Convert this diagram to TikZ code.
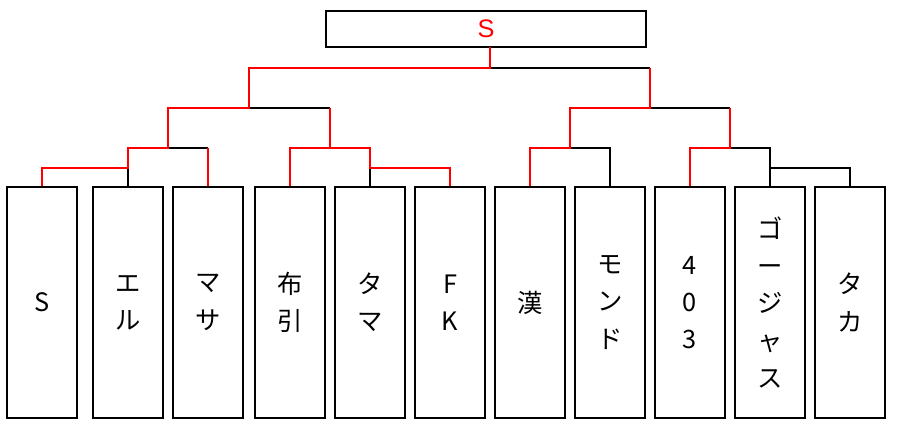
\documentclass[tikz,border=0pt]{standalone}
\usepackage{fontspec}
\setmainfont{Liberation Sans}
\newfontfamily\jpfont{Noto Sans CJK JP}
\begin{document}
\begin{tikzpicture}[x=0.75pt,y=-0.75pt,line width=2pt,
  entry/.style={draw,line width=1.5pt,minimum width=53pt,minimum height=173pt,inner sep=0pt,
    align=center,font=\jpfont\fontsize{19}{28}\selectfont},
  lose/.style={black},
  win/.style={red}]
\useasboundingbox (0,0) rectangle (905,441);
\node[draw,line width=1.5pt,minimum width=240pt,minimum height=27pt,text=red,
  font=\fontsize{19}{20}\selectfont] (top) at (486,29) {S};
\coordinate (final) at (490,47);
\foreach \i/\x/\t in {1/42/S,2/128/エ\\ル,3/208/マ\\サ,4/290/布\\引,5/370/タ\\マ,
  6/450/F\\K,7/530/漢,8/610/モ\\ン\\ド,9/690/4\\0\\3,10/770/ゴ\\ー\\ジ\\ャ\\ス,11/850/タ\\カ}
  \node[entry] (b\i) at (\x,302.5) {\t};
% losers
\draw[lose] (b2.north) -- (128,148) -- (208,148);
\draw[lose] (168,108) -- (330,108);
\draw[lose] (249,68) -- (650,68);
\draw[lose] (b5.north) -- (370,148) -- (290,148);
\draw[lose] (b8.north) -- (610,148) -- (530,148);
\draw[lose] (570,108) -- (730,108);
\draw[lose] (b10.north) -- (770,148) -- (690,148);
\draw[lose] (770,168) -- (850,168) -- (b11.north);
% winners
\draw[win] (b1.north) -- (42,168) -- (128,168) -- (128,148) -- (168,148) -- (168,108)
  -- (249,108) -- (249,68) -- (490,68) -- (final);
\draw[win] (b3.north) -- (208,148);
\draw[win] (b4.north) -- (290,148) -- (330,148);
\draw[win] (330,108) -- (330,148) -- (370,148) -- (370,168) -- (450,168) -- (b6.north);
\draw[win] (b7.north) -- (530,148) -- (570,148) -- (570,108) -- (650,108) -- (650,68);
\draw[win] (b9.north) -- (690,148) -- (730,148) -- (730,108);
\end{tikzpicture}
\end{document}
